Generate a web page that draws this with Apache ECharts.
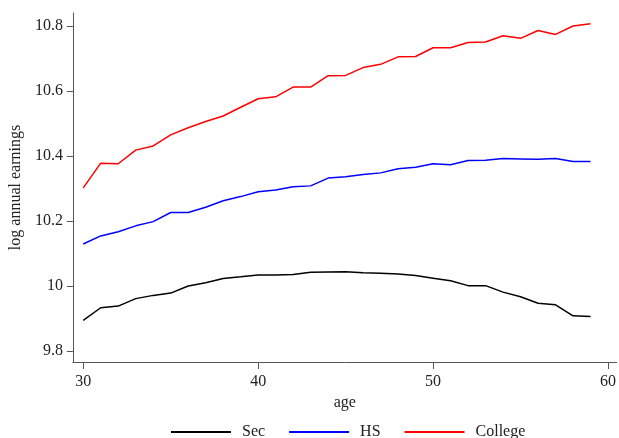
<!DOCTYPE html>
<html lang="en">
<head>
    <meta charset="UTF-8">
    <script src="https://cdn.jsdelivr.net/npm/echarts@6/dist/echarts.min.js"></script>
    <title>log annual earnings by age</title>
    <style>
        html, body { height: 100%; }
        * { padding: 0; margin: 0; }
    </style>
</head>
<body>
    <div id="chart" style="width: 619px;height: 438px;"></div>
    <script>
        var ages = [30, 31, 32, 33, 34, 35, 36, 37, 38, 39, 40, 41, 42, 43, 44,
            45, 46, 47, 48, 49, 50, 51, 52, 53, 54, 55, 56, 57, 58, 59];
        var sec = [9.894, 9.933, 9.938, 9.961, 9.971, 9.978, 10.000, 10.010, 10.023, 10.028,
            10.034, 10.034, 10.035, 10.042, 10.043, 10.044, 10.041, 10.039, 10.037, 10.032,
            10.024, 10.016, 10.001, 10.001, 9.981, 9.967, 9.947, 9.942, 9.908, 9.906];
        var hs = [10.129, 10.154, 10.167, 10.185, 10.198, 10.226, 10.226, 10.242, 10.262, 10.275,
            10.290, 10.295, 10.305, 10.308, 10.332, 10.336, 10.343, 10.348, 10.361, 10.365,
            10.376, 10.373, 10.386, 10.387, 10.392, 10.391, 10.390, 10.392, 10.383, 10.383];
        var college = [10.302, 10.378, 10.376, 10.418, 10.431, 10.465, 10.487, 10.506, 10.523, 10.550,
            10.576, 10.582, 10.612, 10.612, 10.647, 10.648, 10.672, 10.682, 10.705, 10.706,
            10.733, 10.733, 10.749, 10.751, 10.770, 10.762, 10.786, 10.774, 10.800, 10.807];
        var xTicks = [30, 40, 50, 60];
        var yTicks = [9.8, 10, 10.2, 10.4, 10.6, 10.8];

        function pairs(vals) {
            return ages.map(function (a, i) { return [a, vals[i]]; });
        }

        var font = "'Liberation Serif', 'Times New Roman', serif";
        var axisColor = '#555';

        var chart = echarts.init(document.getElementById('chart'));
        var option = {
            backgroundColor: '#ffffff',
            animation: false,
            textStyle: { fontFamily: font },
            grid: { left: 72, right: 0, top: 13, bottom: 76 },
            legend: {
                top: 419,
                left: 166,
                icon: 'rect',
                itemWidth: 60,
                itemHeight: 2,
                itemGap: 24,
                textStyle: { fontFamily: font, fontSize: 16, color: '#222', padding: [0, 0, 0, 6] },
                data: ['Sec', 'HS', 'College']
            },
            xAxis: {
                type: 'value',
                min: 29.41,
                max: 60.49,
                name: 'age',
                nameLocation: 'middle',
                nameGap: 32,
                nameTextStyle: { fontFamily: font, fontSize: 16, color: '#222' },
                axisLine: { lineStyle: { color: axisColor, width: 1 } },
                axisTick: { show: true, length: 7, customValues: xTicks, lineStyle: { color: axisColor } },
                axisLabel: { customValues: xTicks, margin: 12, fontFamily: font, fontSize: 16, color: '#222' },
                splitLine: { show: false }
            },
            yAxis: {
                type: 'value',
                min: 9.766,
                max: 10.84,
                name: 'log annual earnings',
                nameLocation: 'middle',
                nameGap: 48,
                nameTextStyle: { fontFamily: font, fontSize: 16, color: '#222' },
                axisLine: { show: true, lineStyle: { color: axisColor, width: 1 } },
                axisTick: { show: true, length: 6, customValues: yTicks, lineStyle: { color: axisColor } },
                axisLabel: { customValues: yTicks, margin: 10, fontFamily: font, fontSize: 16, color: '#222' },
                splitLine: { show: false }
            },
            series: [
                {
                    name: 'Sec', type: 'line', data: pairs(sec), showSymbol: false,
                    lineStyle: { color: '#000000', width: 1.5 }, itemStyle: { color: '#000000' }
                },
                {
                    name: 'HS', type: 'line', data: pairs(hs), showSymbol: false,
                    lineStyle: { color: '#0000ff', width: 1.5 }, itemStyle: { color: '#0000ff' }
                },
                {
                    name: 'College', type: 'line', data: pairs(college), showSymbol: false,
                    lineStyle: { color: '#ff0000', width: 1.5 }, itemStyle: { color: '#ff0000' }
                }
            ]
        };
        chart.setOption(option);
    </script>
</body>
</html>
